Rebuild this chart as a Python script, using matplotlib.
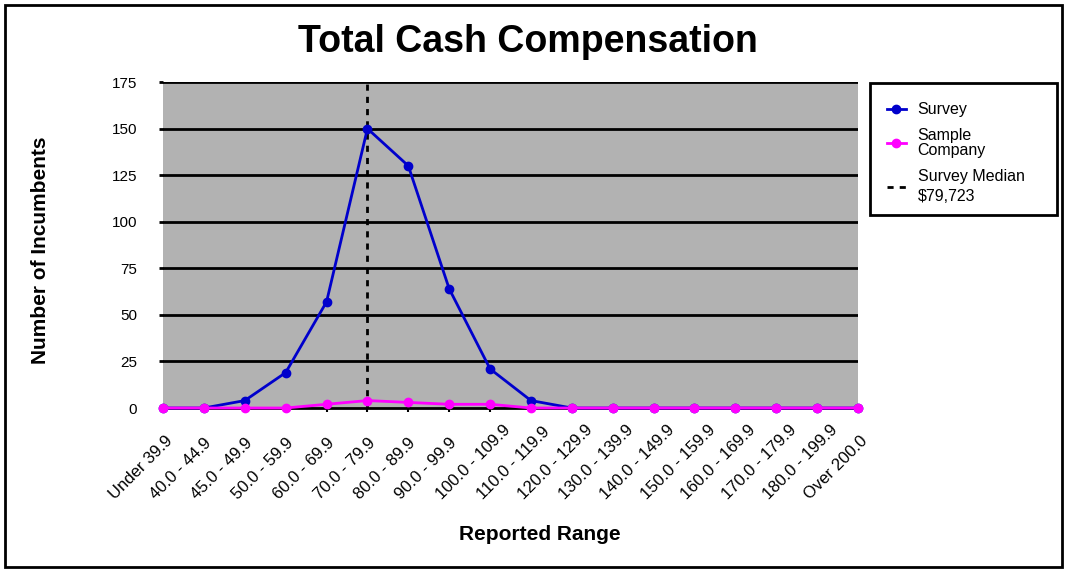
import matplotlib
matplotlib.use("Agg")
import matplotlib.pyplot as plt
import matplotlib.transforms as mtransforms
from matplotlib.lines import Line2D
from matplotlib.patches import Rectangle

plt.rcParams['font.family'] = ['Liberation Sans', 'DejaVu Sans']

categories = ["Under 39.9", "40.0 - 44.9", "45.0 - 49.9", "50.0 - 59.9", "60.0 - 69.9",
              "70.0 - 79.9", "80.0 - 89.9", "90.0 - 99.9", "100.0 - 109.9", "110.0 - 119.9",
              "120.0 - 129.9", "130.0 - 139.9", "140.0 - 149.9", "150.0 - 159.9",
              "160.0 - 169.9", "170.0 - 179.9", "180.0 - 199.9", "Over 200.0"]
survey = [0, 0, 4, 19, 57, 150, 130, 64, 21, 4, 0, 0, 0, 0, 0, 0, 0, 0]
sample_company = [0, 0, 0, 0, 2, 4, 3, 2, 2, 0, 0, 0, 0, 0, 0, 0, 0, 0]
median_category = "70.0 - 79.9"
median_label = "Survey Median\n$79,723"
y_ticks = [0, 25, 50, 75, 100, 125, 150, 175]

BLUE = '#0000CC'
MAGENTA = '#FF00FF'

fig = plt.figure(figsize=(10.67, 5.72), dpi=100)
fig.patches.append(Rectangle((0.005, 0.009), 0.99, 0.982, transform=fig.transFigure,
                             fill=False, edgecolor='black', linewidth=2))
ax = fig.add_axes([0.1528, 0.2867, 0.6513, 0.5699])
ax.set_facecolor('#B2B2B2')

x = list(range(len(categories)))
for yv in y_ticks[1:]:
    ax.axhline(yv, color='black', linewidth=2, zorder=1)

mx = categories.index(median_category)
ax.plot([mx, mx], [0, 175], color='black', linestyle=(0, (2.2, 2.2)), linewidth=2, zorder=2)
ax.plot(x, survey, color=BLUE, linewidth=2, marker='o', markersize=6, zorder=3, clip_on=False)
ax.plot(x, sample_company, color=MAGENTA, linewidth=2, marker='o', markersize=6, zorder=4, clip_on=False)

ax.set_xlim(0, len(categories) - 1)
ax.set_ylim(0, 175)
ax.set_yticks(y_ticks)
ax.set_yticklabels([str(v) for v in y_ticks], fontsize=11)
ax.tick_params(axis='y', length=3, width=2, direction='out', pad=15.5)
ax.set_xticks(x)
ax.set_xticklabels(categories, rotation=45, ha='left', va='baseline',
                   rotation_mode='anchor', fontsize=12)
ax.tick_params(axis='x', length=3, width=1.5, direction='out', pad=63)
offset = mtransforms.ScaledTranslation(-34.5 / 72, 0, fig.dpi_scale_trans)
for lbl in ax.get_xticklabels():
    lbl.set_transform(lbl.get_transform() + offset)
for s in ['left', 'right', 'top']:
    ax.spines[s].set_visible(False)
ax.spines['bottom'].set_linewidth(2)

fig.text(0.4944, 0.927, "Total Cash Compensation", ha='center', va='center',
         fontsize=27, fontweight='bold')
fig.text(0.506, 0.0647, "Reported Range", ha='center', va='center', fontsize=15, fontweight='bold')
fig.text(0.038, 0.563, "Number of Incumbents", ha='center', va='center', rotation=90,
         fontsize=15, fontweight='bold')

# legend frame
fig.patches.append(Rectangle((870 / 1067, 1 - 215 / 572), 187 / 1067, 132 / 572,
                             transform=fig.transFigure, facecolor='white',
                             edgecolor='black', linewidth=2, zorder=5))
handles = [
    Line2D([], [], color=BLUE, linewidth=2, marker='o', markersize=6),
    Line2D([], [], color=MAGENTA, linewidth=2, marker='o', markersize=6),
    Line2D([], [], color='black', linestyle=(0, (2.2, 2.2)), linewidth=2),
]
leg = fig.legend(handles, ["Survey", "Sample\nCompany", median_label],
                 loc='upper left', bbox_to_anchor=(868 / 1067, 1 - 83 / 572),
                 fontsize=11.5, frameon=False, handlelength=1.15,
                 handletextpad=0.75, borderpad=1.2, labelspacing=0.7, borderaxespad=0)
leg.set_zorder(6)
texts = leg.get_texts()
texts[1].set_linespacing(0.95)
texts[2].set_linespacing(1.45)

fig.savefig("out.png", dpi=100)
